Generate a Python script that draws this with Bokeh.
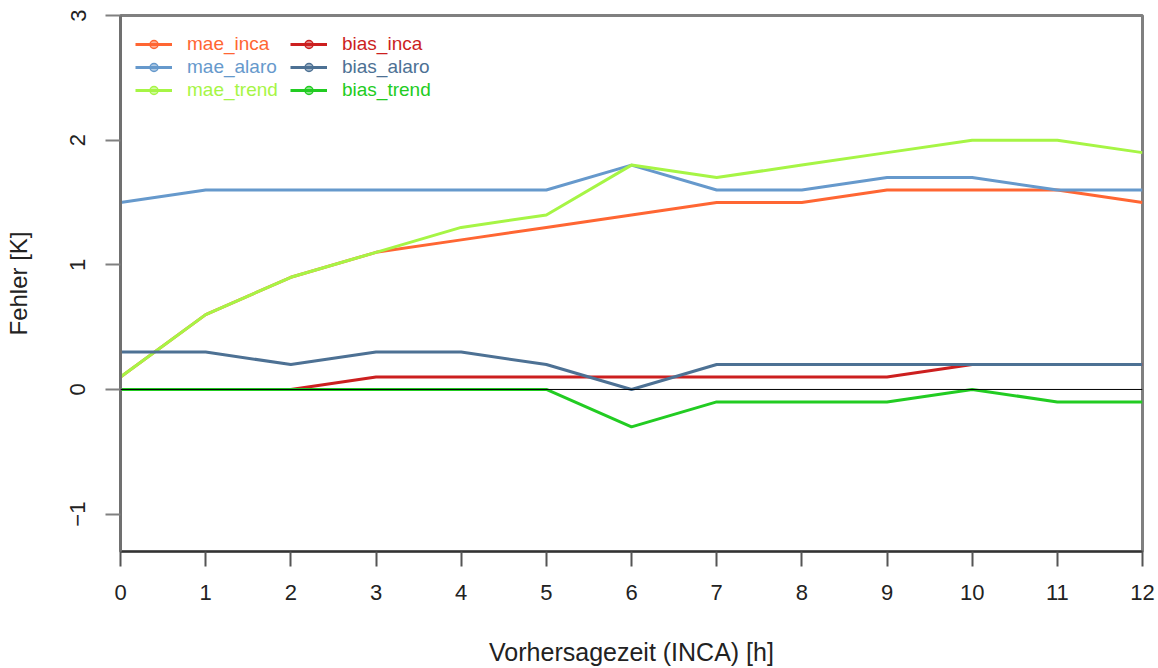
from bokeh.plotting import figure
from bokeh.models import Legend, LegendItem, FixedTicker, Span, Range1d
from bokeh.embed import file_html
from bokeh.resources import INLINE

hours = list(range(13))
mae_inca = [0.1, 0.6, 0.9, 1.1, 1.2, 1.3, 1.4, 1.5, 1.5, 1.6, 1.6, 1.6, 1.5]
mae_alaro = [1.5, 1.6, 1.6, 1.6, 1.6, 1.6, 1.8, 1.6, 1.6, 1.7, 1.7, 1.6, 1.6]
mae_trend = [0.1, 0.6, 0.9, 1.1, 1.3, 1.4, 1.8, 1.7, 1.8, 1.9, 2.0, 2.0, 1.9]
bias_inca = [0.0, 0.0, 0.0, 0.1, 0.1, 0.1, 0.1, 0.1, 0.1, 0.1, 0.2, 0.2, 0.2]
bias_alaro = [0.3, 0.3, 0.2, 0.3, 0.3, 0.2, 0.0, 0.2, 0.2, 0.2, 0.2, 0.2, 0.2]
bias_trend = [0.0, 0.0, 0.0, 0.0, 0.0, 0.0, -0.3, -0.1, -0.1, -0.1, 0.0, -0.1, -0.1]

names = ["mae_inca", "mae_alaro", "mae_trend", "bias_inca", "bias_alaro", "bias_trend"]
series = [mae_inca, mae_alaro, mae_trend, bias_inca, bias_alaro, bias_trend]
colors = ["#FF6633", "#6699CC", "#A6F545", "#CC1F1F", "#4D7194", "#22CC22"]

y_ticks = [-1, 0, 1, 2, 3]
x_label = "Vorhersagezeit (INCA) [h]"
y_label = "Fehler [K]"

FONT = "Liberation Sans"

p = figure(width=1158, height=668, output_backend="svg", toolbar_location=None,
           x_range=Range1d(0, 12), y_range=Range1d(-1.3, 3),
           min_border_left=120, min_border_right=16, min_border_top=15, min_border_bottom=117)
p.background_fill_color = "white"
p.border_fill_color = "white"
p.xgrid.visible = False
p.ygrid.visible = False
p.outline_line_color = "#808080"
p.outline_line_width = 3

# axes
xa = p.xaxis[0]
xa.ticker = FixedTicker(ticks=hours)
xa.axis_label = x_label
xa.axis_line_color = "#333333"
xa.axis_line_width = 2
xa.major_tick_line_color = "#555555"
xa.major_tick_line_width = 2
xa.major_tick_out = 15
xa.major_tick_in = 0
xa.minor_tick_line_color = None
xa.major_label_standoff = 18
xa.major_label_text_font = FONT
xa.major_label_text_font_size = "22px"
xa.major_label_text_color = "#222222"
xa.axis_label_standoff = 35
xa.axis_label_text_font = FONT
xa.axis_label_text_font_size = "25px"
xa.axis_label_text_font_style = "normal"
xa.axis_label_text_color = "#222222"

ya = p.yaxis[0]
ya.ticker = FixedTicker(ticks=y_ticks)
ya.axis_label = y_label
ya.axis_line_color = "#707070"
ya.axis_line_width = 3
ya.major_tick_line_color = "#808080"
ya.major_tick_line_width = 2
ya.major_tick_out = 15
ya.major_tick_in = 0
ya.minor_tick_line_color = None
ya.major_label_orientation = "vertical"
ya.major_label_standoff = 20
ya.major_label_text_font = FONT
ya.major_label_text_font_size = "22px"
ya.major_label_text_color = "#222222"
ya.axis_label_standoff = 36
ya.axis_label_text_font = FONT
ya.axis_label_text_font_size = "24px"
ya.axis_label_text_font_style = "normal"
ya.axis_label_text_color = "#222222"

p.add_layout(Span(location=0, dimension="width", line_color="black", line_width=1))

legend_pos = [(15, 496), (15, 473), (15, 450), (170, 496), (170, 473), (170, 450)]

for name, vals, col, pos in zip(names, series, colors, legend_pos):
    r = p.line(hours, vals, line_color=col, line_width=3)
    m = p.scatter(hours, vals, marker="circle", size=9, line_color=col,
                  fill_color=col, fill_alpha=0.5, line_width=1.5, visible=False)
    leg = Legend(items=[LegendItem(label=name, renderers=[r, m])], location=pos,
                 padding=0, margin=0, spacing=0, glyph_width=37, glyph_height=20,
                 label_height=20, label_standoff=15,
                 background_fill_alpha=0, border_line_alpha=0,
                 label_text_font=FONT, label_text_font_size="19px",
                 label_text_color=col)
    p.add_layout(leg)

open("out.html", "w").write(file_html(p, INLINE))
